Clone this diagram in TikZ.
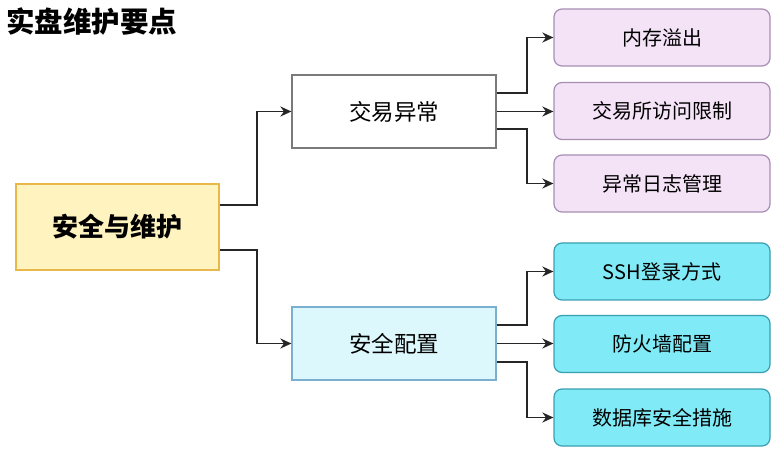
\documentclass[tikz,border=0pt]{standalone}
\usepackage{fontspec}
\setmainfont{Noto Sans CJK SC}
\usetikzlibrary{arrows.meta,calc}
\definecolor{rootfill}{HTML}{FFF4BF}
\definecolor{rootdraw}{HTML}{E8B84A}
\definecolor{midgray}{HTML}{7A7A7A}
\definecolor{cyanlight}{HTML}{DDF8FD}
\definecolor{cyanlightdraw}{HTML}{7AAFCF}
\definecolor{purplefill}{HTML}{F4E2F7}
\definecolor{purpledraw}{HTML}{A68FB3}
\definecolor{cyanfill}{HTML}{80EAF6}
\definecolor{cyandraw}{HTML}{3A9FB0}
\begin{document}
\begin{tikzpicture}[x=1pt,y=-1pt,
  rootbox/.style={draw=rootdraw,fill=rootfill,line width=1.4pt,minimum width=203pt,minimum height=86pt,inner sep=0pt,font=\fontsize{26}{30}\selectfont\bfseries},
  midbox/.style={line width=1.2pt,minimum width=204pt,minimum height=73pt,inner sep=0pt,font=\fontsize{22.5}{26}\selectfont},
  leafbox/.style={rounded corners=8pt,line width=1.2pt,minimum width=216pt,minimum height=57pt,inner sep=0pt,font=\fontsize{20}{24}\selectfont},
  purpleleaf/.style={leafbox,draw=purpledraw,fill=purplefill},
  cyanleaf/.style={leafbox,draw=cyandraw,fill=cyanfill},
  conn/.style={draw=black!85,line width=1.8pt,-{Stealth[length=11pt,width=10pt]}}
]
\useasboundingbox (0,0) rectangle (777,457);
\node[anchor=west,font=\fontsize{28.5}{32}\selectfont\bfseries,inner sep=0pt] (title) at (6,22) {实盘维护要点};
\node[rootbox] (root) at (117.5,227) {安全与维护};
\node[midbox,draw=midgray,fill=white] (a) at (394,111.5) {交易异常};
\node[midbox,draw=cyanlightdraw,fill=cyanlight] (b) at (394,343.5) {安全配置};
\node[purpleleaf] (l1) at (662,37.5) {内存溢出};
\node[purpleleaf] (l2) at (662,111) {交易所访问限制};
\node[purpleleaf] (l3) at (662,183.5) {异常日志管理};
\node[cyanleaf] (l4) at (662,271.5) {SSH登录方式};
\node[cyanleaf] (l5) at (662,344) {防火墙配置};
\node[cyanleaf] (l6) at (662,417.5) {数据库安全措施};
\draw[conn] ([yshift=22pt]root.east) -- ++(37pt,0) |- (a.west);
\draw[conn] ([yshift=-23pt]root.east) -- ++(37pt,0) |- (b.west);
\draw[conn] ([yshift=18.5pt]a.east) -- ++(30pt,0) |- (l1.west);
\draw[conn] (a.east) -- (a.east -| l2.west);
\draw[conn] ([yshift=-17.5pt]a.east) -- ++(30pt,0) |- (l3.west);
\draw[conn] ([yshift=18.5pt]b.east) -- ++(30pt,0) |- (l4.west);
\draw[conn] (b.east) -- (b.east -| l5.west);
\draw[conn] ([yshift=-18.5pt]b.east) -- ++(30pt,0) |- (l6.west);
\end{tikzpicture}
\end{document}
